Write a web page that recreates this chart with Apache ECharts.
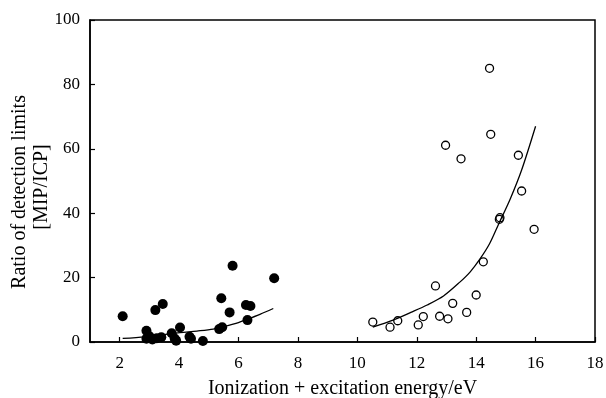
<!DOCTYPE html>
<html>
<head>
<meta charset="utf-8">
<script src="https://cdn.jsdelivr.net/npm/echarts@6/dist/echarts.min.js"></script>
<style>
html,body{margin:0;padding:0;background:#fff;}
#chart{width:606px;height:398px;}
</style>
</head>
<body>
<div id="chart"></div>
<script>
// Filled circles (left group)
var filledX = [2.1, 2.9, 2.9, 3.0, 3.1, 3.2, 3.25, 3.4, 3.45, 3.75, 3.85, 3.9, 4.03, 4.35, 4.4, 4.8, 5.35, 5.45, 5.42, 5.7, 5.8, 6.25, 6.4, 6.3, 7.2];
var filledY = [8.0, 3.5, 1.0, 1.8, 0.8, 9.9, 1.2, 1.5, 11.8, 2.7, 1.1, 0.4, 4.5, 1.6, 1.0, 0.3, 4.0, 4.6, 13.6, 9.2, 23.7, 11.5, 11.2, 6.8, 19.8];
// Open circles (right group)
var openX = [10.52, 11.1, 11.36, 12.05, 12.22, 12.63, 12.77, 13.05, 13.21, 13.68, 14.0, 14.24, 14.78, 14.8, 15.53, 15.95, 14.45, 14.49, 12.97, 13.49, 15.42];
var openY = [6.2, 4.6, 6.6, 5.3, 7.9, 17.4, 8.0, 7.2, 12.0, 9.2, 14.6, 24.9, 38.1, 38.6, 46.9, 35.0, 85.0, 64.5, 61.1, 56.9, 58.0];
// Fitted curves
var curve1X = [2.1, 2.85, 3.4, 4.03, 4.6, 5.15, 5.5, 5.85, 6.3, 6.72, 7.17];
var curve1Y = [1.1, 1.6, 2.2, 2.9, 3.4, 4.0, 4.8, 5.6, 7.1, 8.6, 10.4];
var curve2X = [10.52, 11.2, 11.8, 12.35, 12.9, 13.45, 13.8, 14.13, 14.45, 14.75, 15.15, 15.53, 16.0];
var curve2Y = [4.6, 6.8, 9.2, 11.5, 14.3, 18.6, 21.8, 25.8, 30.5, 36.5, 44.5, 53.4, 67.0];
// Tick labels
var xTicks = [2, 4, 6, 8, 10, 12, 14, 16, 18];
var yTicks = [0, 20, 40, 60, 80, 100];

function zip(a, b) { return a.map(function (v, i) { return [v, b[i]]; }); }

var FONT = 'Liberation Serif';
var chart = echarts.init(document.getElementById('chart'), null, {renderer: 'canvas'});
chart.setOption({
  animation: false,
  backgroundColor: '#fff',
  grid: {left: 90, right: 11, top: 20, bottom: 56, outerBoundsMode: 'none', containLabel: false,
         show: true, borderColor: '#000', borderWidth: 1.5, backgroundColor: 'transparent'},
  xAxis: {
    type: 'value', min: 1, max: 18,
    name: 'Ionization + excitation energy/eV', nameLocation: 'middle', nameGap: 37,
    nameTextStyle: {fontFamily: FONT, fontSize: 20, color: '#000'},
    axisLine: {show: true, lineStyle: {color: '#000', width: 1.5}},
    axisTick: {show: true, inside: true, length: 5, customValues: xTicks, lineStyle: {color: '#000', width: 1.2}},
    axisLabel: {customValues: xTicks, margin: 13, fontFamily: FONT, fontSize: 17, color: '#000'},
    splitLine: {show: false}
  },
  yAxis: {
    type: 'value', min: 0, max: 100, interval: 20,
    axisLine: {show: true, lineStyle: {color: '#000', width: 1.5}},
    axisTick: {show: true, inside: true, length: 5, customValues: yTicks, lineStyle: {color: '#000', width: 1.2}},
    axisLabel: {customValues: yTicks, margin: 10, fontFamily: FONT, fontSize: 17, color: '#000'},
    splitLine: {show: false}
  },
  graphic: [
    {type: 'text', x: 20, y: 192, rotation: Math.PI / 2,
     style: {text: 'Ratio of detection limits', font: '20px "Liberation Serif"', fill: '#000', align: 'center', verticalAlign: 'middle'}},
    {type: 'text', x: 42, y: 187, rotation: Math.PI / 2,
     style: {text: '[MIP/ICP]', font: '20px "Liberation Serif"', fill: '#000', align: 'center', verticalAlign: 'middle'}}
  ],
  series: [
    {type: 'line', data: zip(curve1X, curve1Y), smooth: 0.3, symbol: 'none', lineStyle: {color: '#000', width: 1.3}, z: 2},
    {type: 'line', data: zip(curve2X, curve2Y), smooth: 0.3, symbol: 'none', lineStyle: {color: '#000', width: 1.3}, z: 2},
    {type: 'scatter', data: zip(filledX, filledY), symbol: 'circle', symbolSize: 10, itemStyle: {color: '#000', opacity: 1}, z: 3},
    {type: 'scatter', data: zip(openX, openY), symbol: 'circle', symbolSize: 8, itemStyle: {color: 'transparent', borderColor: '#000', borderWidth: 1.3, opacity: 1}, z: 3}
  ]
});
</script>
</body>
</html>
